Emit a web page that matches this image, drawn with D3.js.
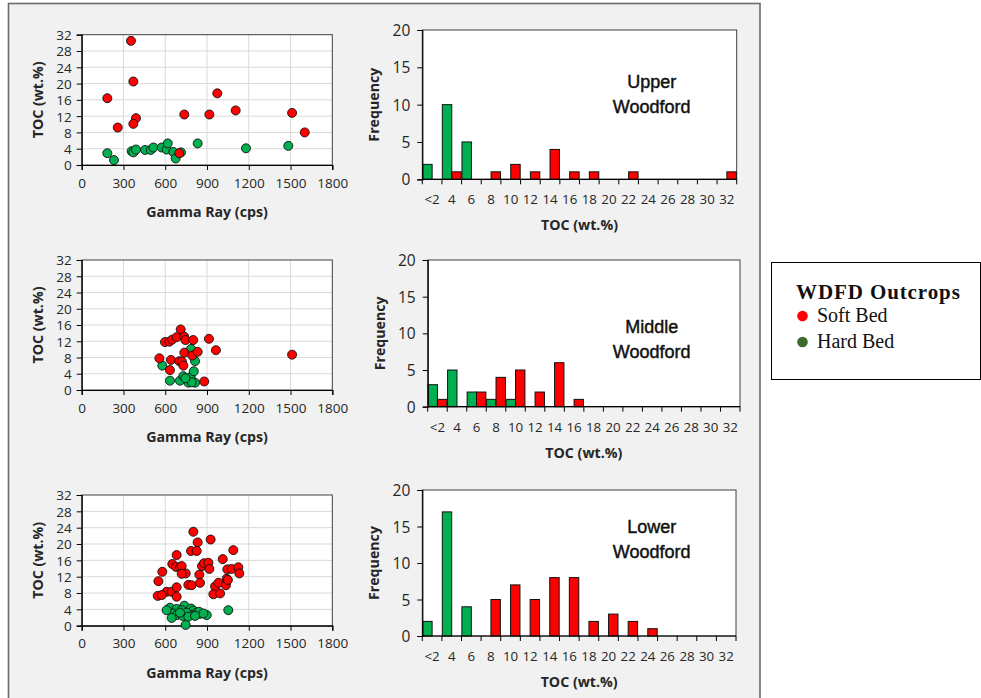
<!DOCTYPE html>
<html><head><meta charset="utf-8">
<script src="https://cdn.jsdelivr.net/npm/d3@7"></script>
<style>body{margin:0;background:#fff;} svg{display:block;}</style>
</head><body><svg id="c" width="981" height="698"></svg>
<script>
// ---------- tick labels / categories ----------
const grTicks = [0, 300, 600, 900, 1200, 1500, 1800];
const tocTicks = [0, 4, 8, 12, 16, 20, 24, 28, 32];
const freqTicks = [0, 5, 10, 15, 20];
const binLabels = ["<2","4","6","8","10","12","14","16","18","20","22","24","26","28","30","32"];
const zoneNames = [["Upper","Woodford"],["Middle","Woodford"],["Lower","Woodford"]];
const legendTitle = "WDFD Outcrops";
const seriesNames = ["Soft Bed", "Hard Bed"];

// ---------- scatter data: Upper Woodford ----------
const upperSoftGR  = [354, 371, 184, 390, 371, 259, 737, 917, 974, 1106, 1511, 1602, 701];
const upperSoftTOC = [30.5, 20.5, 16.4, 11.5, 10.1, 9.2, 12.4, 12.4, 17.6, 13.4, 12.8, 8.0, 2.9];
const upperHardGR  = [184, 232, 359, 371, 390, 455, 496, 515, 575, 610, 618, 658, 675, 713, 833, 1180, 1484];
const upperHardTOC = [2.9, 1.2, 3.4, 3.1, 3.8, 3.7, 3.7, 4.3, 4.3, 3.8, 5.3, 3.2, 1.6, 3.1, 5.3, 4.1, 4.7];

// ---------- scatter data: Middle Woodford ----------
const middleSoftGR  = [558, 598, 630, 650, 682, 711, 737, 745, 801, 914, 964, 1511, 641, 701, 720, 730, 737, 794, 833, 634, 880];
const middleSoftTOC = [7.8, 11.8, 11.9, 12.4, 13.0, 14.9, 13.1, 12.3, 12.3, 12.6, 9.8, 8.7, 7.4, 7.1, 7.0, 6.0, 9.2, 8.5, 9.4, 4.9, 2.1];
const middleHardGR  = [579, 634, 706, 730, 783, 766, 814, 790, 805, 814, 785, 745];
const middleHardTOC = [6.0, 2.3, 2.3, 3.4, 3.2, 1.8, 1.8, 1.9, 4.6, 7.1, 10.1, 2.9];

// ---------- scatter data: Lower Woodford ----------
const lowerSoftGR  = [802, 833, 926, 785, 826, 1089, 682, 1013, 651, 677, 706, 718, 579, 747, 718, 864, 879, 910, 917, 845,
                      1046, 1077, 1125, 1132, 1041, 551, 766, 790, 850, 958, 982, 1036, 610, 646, 682, 546, 575, 682, 946, 994, 1050];
const lowerSoftTOC = [23.0, 20.4, 21.1, 18.3, 18.3, 18.5, 17.3, 16.3, 15.1, 14.4, 14.3, 14.6, 13.2, 12.8, 12.7, 14.6, 15.3, 15.4, 13.9, 12.5,
                      13.8, 13.9, 14.3, 12.8, 11.5, 10.9, 10.0, 9.9, 10.5, 9.6, 10.5, 9.9, 8.3, 8.3, 9.4, 7.3, 7.5, 7.1, 7.7, 7.9, 11.2];
const lowerHardGR  = [737, 634, 682, 718, 785, 802, 658, 682, 725, 785, 754, 826, 850, 898, 646, 747, 1053, 843, 874, 706, 766, 610, 814];
const lowerHardTOC = [4.9, 4.4, 4.1, 3.8, 4.2, 3.7, 3.0, 2.6, 2.4, 2.6, 3.2, 3.2, 2.9, 2.6, 1.9, 0.2, 3.8, 3.4, 3.0, 3.2, 2.2, 3.8, 2.4];

// ---------- histogram counts ----------
const upperHardFreq  = [2, 10, 5, 0, 0, 0, 0, 0, 0, 0, 0, 0, 0, 0, 0, 0];
const upperSoftFreq  = [0, 1, 0, 1, 2, 1, 4, 1, 1, 0, 1, 0, 0, 0, 0, 1];
const middleHardFreq = [3, 5, 2, 1, 1, 0, 0, 0, 0, 0, 0, 0, 0, 0, 0, 0];
const middleSoftFreq = [1, 0, 2, 4, 5, 2, 6, 1, 0, 0, 0, 0, 0, 0, 0, 0];
const lowerHardFreq  = [2, 17, 4, 0, 0, 0, 0, 0, 0, 0, 0, 0, 0, 0, 0, 0];
const lowerSoftFreq  = [0, 0, 0, 5, 7, 5, 8, 8, 2, 3, 2, 1, 0, 0, 0, 0];

// ---------- styles ----------
const RED = "#ff0000", GREEN = "#00b050", LEG_GREEN = "#3b6b2b";
const FONT = "'Open Sans', 'Noto Sans', sans-serif";
const TXT = "#262626";

const svg = d3.select("#c");

// background frame
svg.append("rect").attr("x", 8.5).attr("y", 3.5).attr("width", 751.5).attr("height", 720)
  .attr("fill", "#f1f1f1").attr("stroke", "#6b6b6b").attr("stroke-width", 1.6);

const scatterPanels = [
  {x0: 81.7, x1: 332.3, y0: 34.7, y1: 165, soft: [upperSoftGR, upperSoftTOC], hard: [upperHardGR, upperHardTOC]},
  {x0: 81.7, x1: 332.3, y0: 260, y1: 390, soft: [middleSoftGR, middleSoftTOC], hard: [middleHardGR, middleHardTOC]},
  {x0: 81.7, x1: 332.3, y0: 495, y1: 625.7, soft: [lowerSoftGR, lowerSoftTOC], hard: [lowerHardGR, lowerHardTOC]}
];

scatterPanels.forEach(p => {
  const x = d3.scaleLinear().domain([0, 1800]).range([p.x0, p.x1]);
  const y = d3.scaleLinear().domain([0, 32]).range([p.y1, p.y0]);
  const g = svg.append("g");
  g.append("rect").attr("x", p.x0).attr("y", p.y0).attr("width", p.x1 - p.x0).attr("height", p.y1 - p.y0).attr("fill", "#fff");
  // grid
  g.append("g").selectAll("line").data(grTicks.slice(1, -1)).join("line")
    .attr("x1", d => x(d)).attr("x2", d => x(d)).attr("y1", p.y0).attr("y2", p.y1)
    .attr("stroke", "#d9d9d9").attr("stroke-width", 1);
  g.append("g").selectAll("line").data(tocTicks.slice(1, -1)).join("line")
    .attr("y1", d => y(d)).attr("y2", d => y(d)).attr("x1", p.x0).attr("x2", p.x1)
    .attr("stroke", "#d9d9d9").attr("stroke-width", 1);
  g.append("rect").attr("x", p.x0).attr("y", p.y0).attr("width", p.x1 - p.x0).attr("height", p.y1 - p.y0)
    .attr("fill", "none").attr("stroke", "#404040").attr("stroke-width", 1);
  // axes
  const ax = g.append("g").attr("transform", `translate(0,${p.y1})`)
    .call(d3.axisBottom(x).tickValues(grTicks).tickFormat(d3.format("d")).tickSize(5).tickPadding(8));
  const ay = g.append("g").attr("transform", `translate(${p.x0},0)`)
    .call(d3.axisLeft(y).tickValues(tocTicks).tickFormat(d3.format("d")).tickSize(5).tickPadding(5));
  [ax, ay].forEach(a => {
    a.select(".domain").attr("stroke", "#000").attr("stroke-width", 1.2);
    a.selectAll(".tick line").attr("stroke", "#000");
    a.selectAll("text").attr("font-family", FONT).attr("font-size", 13.5).attr("fill", TXT);
  });
  ay.selectAll("text").attr("dy", "0.36em");
  // points: hard first then soft
  const pts = [];
  p.hard[0].forEach((v, i) => pts.push({gr: v, toc: p.hard[1][i], c: GREEN}));
  p.soft[0].forEach((v, i) => pts.push({gr: v, toc: p.soft[1][i], c: RED}));
  g.append("g").selectAll("circle").data(pts).join("circle")
    .attr("cx", d => x(d.gr)).attr("cy", d => y(d.toc)).attr("r", 4.5)
    .attr("fill", d => d.c).attr("stroke", "#111").attr("stroke-width", 0.9);
  // titles
  g.append("text").attr("x", (p.x0 + p.x1) / 2).attr("y", p.y1 + 52).attr("text-anchor", "middle")
    .attr("font-family", FONT).attr("font-weight", "bold").attr("font-size", 14.2).attr("fill", TXT)
    .text("Gamma Ray (cps)");
  g.append("text").attr("transform", `translate(${p.x0 - 39},${(p.y0 + p.y1) / 2}) rotate(-90)`)
    .attr("text-anchor", "middle").attr("font-family", FONT).attr("font-weight", "bold")
    .attr("font-size", 14.2).attr("fill", TXT).text("TOC (wt.%)");
});

const histPanels = [
  {x0: 422.3, x1: 736.7, y0: 30, y1: 179.3, hard: upperHardFreq, soft: upperSoftFreq, ty: 88},
  {x0: 427.7, x1: 740, y0: 260, y1: 406.7, hard: middleHardFreq, soft: middleSoftFreq, ty: 333},
  {x0: 422.3, x1: 736, y0: 490, y1: 636, hard: lowerHardFreq, soft: lowerSoftFreq, ty: 533}
];

histPanels.forEach((p, k) => {
  const x = d3.scaleBand().domain(binLabels).range([p.x0, p.x1]).padding(0);
  const sub = d3.scaleBand().domain(["hard", "soft"]).range([0, x.bandwidth()]).paddingOuter(0.04).paddingInner(0);
  const y = d3.scaleLinear().domain([0, 20]).range([p.y1, p.y0]);
  const g = svg.append("g");
  g.append("rect").attr("x", p.x0).attr("y", p.y0).attr("width", p.x1 - p.x0).attr("height", p.y1 - p.y0)
    .attr("fill", "#fff").attr("stroke", "#404040").attr("stroke-width", 1);
  const bars = [];
  binLabels.forEach((b, i) => {
    if (p.hard[i] > 0) bars.push({b, s: "hard", v: p.hard[i], c: GREEN});
    if (p.soft[i] > 0) bars.push({b, s: "soft", v: p.soft[i], c: RED});
  });
  g.append("g").selectAll("rect").data(bars).join("rect")
    .attr("x", d => x(d.b) + sub(d.s)).attr("width", sub.bandwidth())
    .attr("y", d => y(d.v)).attr("height", d => y(0) - y(d.v))
    .attr("fill", d => d.c).attr("stroke", "#111").attr("stroke-width", 1);
  // x axis: ticks at band boundaries
  g.append("line").attr("x1", p.x0).attr("x2", p.x1).attr("y1", p.y1).attr("y2", p.y1)
    .attr("stroke", "#000").attr("stroke-width", 1.2);
  const bounds = binLabels.map(b => x(b)).concat([p.x1]);
  g.append("g").selectAll("line").data(bounds).join("line")
    .attr("x1", d => d).attr("x2", d => d).attr("y1", p.y1).attr("y2", p.y1 + 5).attr("stroke", "#000");
  g.append("g").selectAll("text").data(binLabels).join("text")
    .attr("x", d => x(d) + x.bandwidth() / 2).attr("y", p.y1 + 25).attr("text-anchor", "middle")
    .attr("font-family", FONT).attr("font-size", 13.3).attr("fill", TXT).text(d => d);
  const ay = g.append("g").attr("transform", `translate(${p.x0},0)`)
    .call(d3.axisLeft(y).tickValues(freqTicks).tickSize(5).tickPadding(7));
  ay.select(".domain").attr("stroke", "#000").attr("stroke-width", 1.2);
  ay.selectAll(".tick line").attr("stroke", "#000");
  ay.selectAll("text").attr("font-family", FONT).attr("font-size", 15.5).attr("fill", TXT).attr("dy", "0.36em");
  // titles
  g.append("text").attr("x", (p.x0 + p.x1) / 2).attr("y", p.y1 + 51).attr("text-anchor", "middle")
    .attr("font-family", FONT).attr("font-weight", "bold").attr("font-size", 14.2).attr("fill", TXT)
    .text("TOC (wt.%)");
  g.append("text").attr("transform", `translate(${p.x0 - 43},${(p.y0 + p.y1) / 2}) rotate(-90)`)
    .attr("text-anchor", "middle").attr("font-family", FONT).attr("font-weight", "bold")
    .attr("font-size", 14.2).attr("fill", TXT).text("Frequency");
  // zone annotation
  zoneNames[k].forEach((t, j) => {
    g.append("text").attr("x", 651.7).attr("y", p.ty + j * 25).attr("text-anchor", "middle")
      .attr("font-family", "'Liberation Sans', Arial, sans-serif").attr("font-size", 18).attr("fill", "#111")
      .attr("stroke", "#111").attr("stroke-width", 0.45)
      .text(t);
  });
});

// legend
const lg = svg.append("g");
lg.append("rect").attr("x", 771.5).attr("y", 262.5).attr("width", 209).attr("height", 117)
  .attr("fill", "#fff").attr("stroke", "#000").attr("stroke-width", 1);
lg.append("text").attr("x", 796).attr("y", 298.5).attr("font-family", "'Liberation Serif', 'Times New Roman', serif")
  .attr("font-weight", "bold").attr("font-size", 21).attr("letter-spacing", 0.9).attr("fill", "#111").text(legendTitle);
const legCols = [RED, LEG_GREEN];
seriesNames.forEach((s, i) => {
  const cy = 316 + i * 26;
  lg.append("circle").attr("cx", 802.5).attr("cy", cy).attr("r", 5.3).attr("fill", legCols[i]);
  lg.append("text").attr("x", 817).attr("y", cy + 5.5).attr("font-family", "'Liberation Serif', 'Times New Roman', serif")
    .attr("font-size", 20).attr("fill", "#111").text(s);
});
</script>
</body></html>
